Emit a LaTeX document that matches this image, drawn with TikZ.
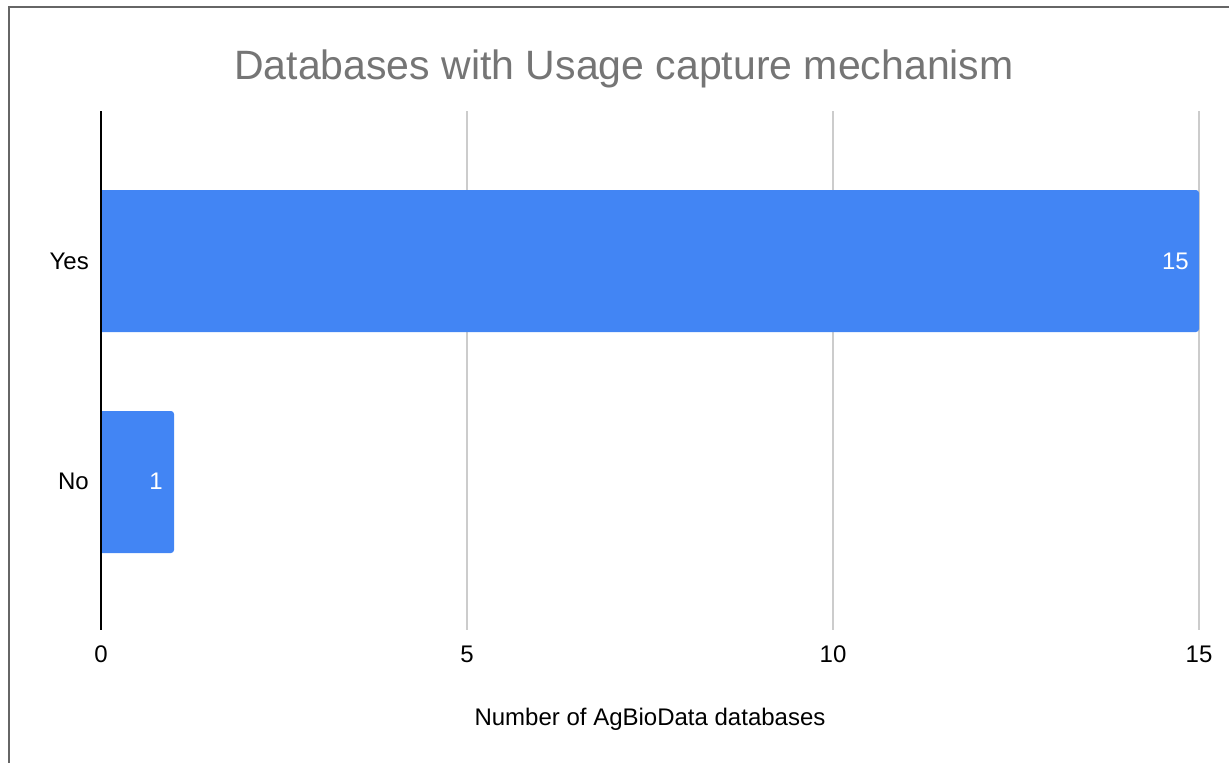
\documentclass[tikz,border=0pt]{standalone}
\usepackage{fontspec}
\setmainfont{Liberation Sans}
\usetikzlibrary{positioning}

\definecolor{barblue}{HTML}{4285F4}
\definecolor{titlegray}{HTML}{757575}
\definecolor{gridgray}{HTML}{CCCCCC}
\definecolor{framegray}{HTML}{666666}

\tikzset{
    bar/.style={fill=barblue},
    gridline/.style={draw=gridgray, line width=1.6pt},
    axisline/.style={draw=black, line width=1.4pt},
    ticklabel/.style={font=\fontsize{24}{28}\selectfont, inner sep=0pt},
    barvalue/.style={text=white, font=\fontsize{24}{28}\selectfont, inner sep=0pt, anchor=east}
}

\begin{document}
\begin{tikzpicture}[x=1pt, y=-1pt]

    % Fix the page to the size of the chart
    \useasboundingbox (0,0) rectangle (1229,763);

    % Outer frame (only top and left edge visible)
    \draw[framegray, line width=1.5pt] (9,763) -- (9,7) -- (1229,7);

    % Define the coordinates for the plot area
    \coordinate (O) at (101,630);    % Origin, value 0
    \coordinate (T) at (101,111);    % Top of the axis
    \coordinate (G5) at (467,111);   % Grid line at 5
    \coordinate (G10) at (833,111);  % Grid line at 10
    \coordinate (G15) at (1199,111); % Grid line at 15

    % Vertical grid lines
    \draw[gridline] (G5) -- (467,630);
    \draw[gridline] (G10) -- (833,630);
    \draw[gridline] (G15) -- (1199,630);

    % Bar for Yes (15)
    \fill[bar] (101,332) -- (101,190) [rounded corners=3pt] -- (1199,190) -- (1199,332) [sharp corners] -- cycle;

    % Bar for No (1)
    \fill[bar] (101,553) -- (101,411) [rounded corners=3pt] -- (174,411) -- (174,553) [sharp corners] -- cycle;

    % Vertical axis
    \draw[axisline] (T) -- (O);

    % Title
    \node[text=titlegray, font=\fontsize{41}{49}\selectfont, anchor=base, inner sep=0pt] (title) at (624,79) {Databases with Usage capture mechanism};

    % Category labels
    \node[ticklabel, anchor=east] (yes) at (89,261) {Yes};
    \node[ticklabel, anchor=east] (no) at (89,481) {No};

    % Values on the bars
    \node[barvalue] (v15) at (1189,261) {15};
    \node[barvalue] (v1) at (163,481) {1};

    % Tick labels on the x axis
    \node[ticklabel] (t0) at (101,654) {0};
    \node[ticklabel] (t5) at (467,654) {5};
    \node[ticklabel] (t10) at (833,654) {10};
    \node[ticklabel] (t15) at (1199,654) {15};

    % Axis title
    \node[ticklabel, anchor=base] (xtitle) at (650,725) {Number of AgBioData databases};

\end{tikzpicture}
\end{document}
